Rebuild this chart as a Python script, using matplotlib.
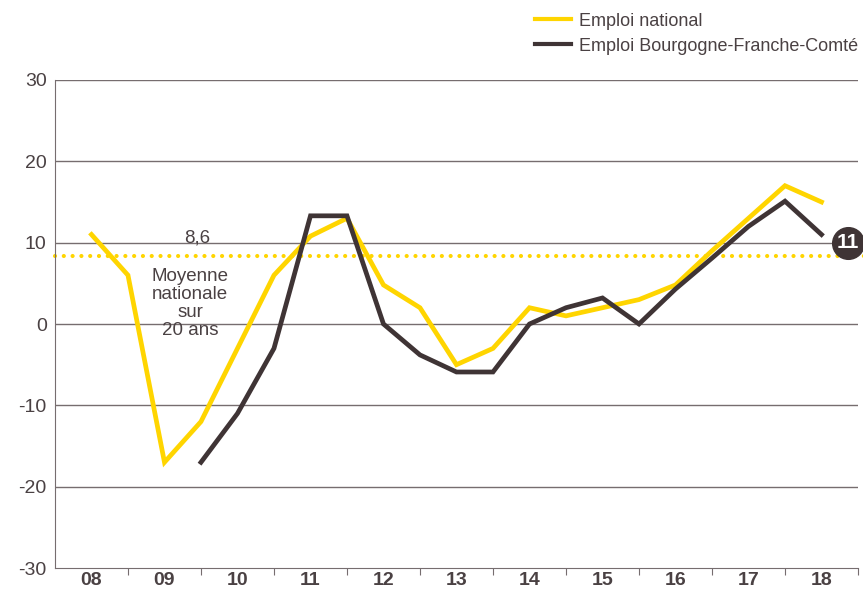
import matplotlib
matplotlib.use("Agg")
import matplotlib.pyplot as plt
from matplotlib.lines import Line2D

plt.rcParams['font.family'] = ['Liberation Sans', 'DejaVu Sans']

years = ["08", "09", "10", "11", "12", "13", "14", "15", "16", "17", "18"]

# half-year points, position = index of year + 0.5 / + 1.0
x_nat = [0.5, 1.0, 1.5, 2.0, 2.5, 3.0, 3.5, 4.0, 4.5, 5.0, 5.5,
         6.0, 6.5, 7.0, 7.5, 8.0, 8.5, 9.0, 9.5, 10.0, 10.5]
y_nat = [11, 6, -17, -12, -3, 6, 10.8, 13, 4.8, 2, -5,
         -3, 2, 1, 2, 3, 4.8, 9, 13, 17, 15]

x_bfc = [2.0, 2.5, 3.0, 3.5, 4.0, 4.5, 5.0, 5.5, 6.0, 6.5,
         7.0, 7.5, 8.0, 8.5, 9.0, 9.5, 10.0, 10.5]
y_bfc = [-17, -11, -3, 13.3, 13.3, 0, -3.8, -5.9, -5.9, 0,
         2, 3.2, 0, 4.3, 8.1, 12, 15.1, 11]

moyenne = 8.6
yellow = "#FFD500"
dark = "#3f3435"
grey = "#766d6f"
txt = "#4a4143"

fig = plt.figure(figsize=(8.63, 5.92), dpi=100)
ax = fig.add_axes([0.0637, 0.0405, 0.9305, 0.8244])

for v in [-20, -10, 0, 10, 20, 30]:
    ax.axhline(v, color=grey, lw=1, zorder=1)

ax.plot([0, 11.2], [moyenne - 0.2, moyenne - 0.2], color=yellow, lw=3,
        linestyle=(0, (0.01, 2.1)), dash_capstyle='round', clip_on=False, zorder=2)

ax.plot(x_nat, y_nat, color=yellow, lw=3.4, zorder=3, solid_joinstyle='miter')
ax.plot(x_bfc, y_bfc, color=dark, lw=3.4, zorder=4, solid_joinstyle='miter')

ax.text(1.95, 9.5, "8,6", ha='center', va='bottom', fontsize=13.5, color=txt)
ax.text(1.85, 6.9, "Moyenne\nnationale\nsur\n20 ans", ha='center', va='top',
        fontsize=13.5, color=txt, linespacing=1.08)

ax.scatter([10.86], [y_bfc[-1] - 1.0], s=520, color=dark, clip_on=False, zorder=6)
ax.text(10.86, y_bfc[-1] - 1.0, str(int(y_bfc[-1])), ha='center', va='center',
        fontsize=15, fontweight='bold', color='white', zorder=7)

ax.set_xlim(0, 11)
ax.set_ylim(-30, 30)
ax.set_yticks([-30, -20, -10, 0, 10, 20, 30])
ax.set_yticklabels(["-30", "-20", "-10", "0", "10", "20", "30"])
ax.tick_params(axis='y', length=0, pad=6, labelsize=14, labelcolor=txt)

ax.set_xticks(range(1, 12))
ax.set_xticklabels([])
ax.tick_params(axis='x', which='major', length=5, color=grey, direction='out')
ax.set_xticks([i + 0.5 for i in range(11)], minor=True)
ax.set_xticklabels(years, minor=True, fontweight='bold', fontsize=14, color=txt)
ax.tick_params(axis='x', which='minor', length=0, pad=3)

for s in ['top', 'right']:
    ax.spines[s].set_visible(False)
ax.spines['left'].set_color(grey)
ax.spines['bottom'].set_color(grey)

handles = [Line2D([], [], color=yellow, lw=3), Line2D([], [], color=dark, lw=3)]
fig.legend(handles, ["Emploi national", "Emploi Bourgogne-Franche-Comté"],
           loc='upper left', bbox_to_anchor=(0.605, 1.0), frameon=False,
           fontsize=13, handlelength=2.0, handletextpad=0.45, labelspacing=0.45,
           borderaxespad=0.3, labelcolor=txt)

fig.savefig("out.png", dpi=100)
